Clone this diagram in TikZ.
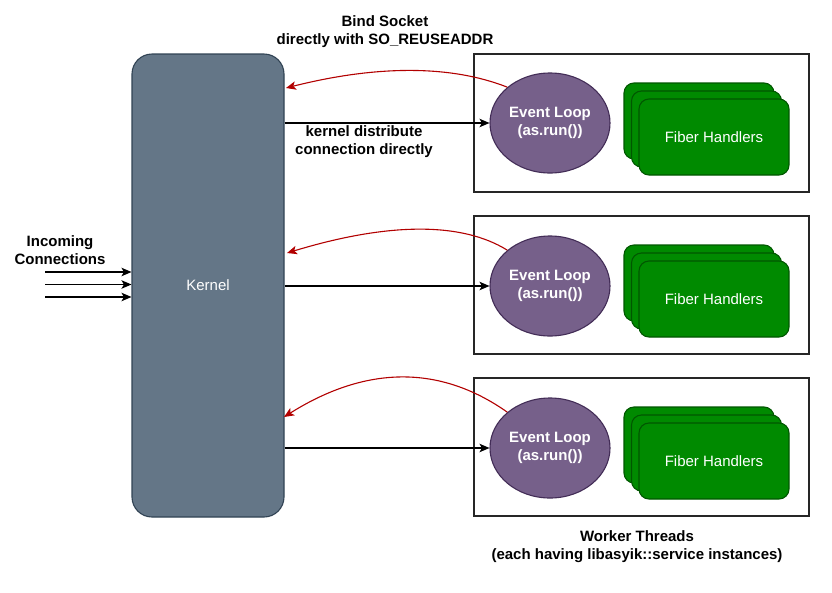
\documentclass[tikz,border=0pt]{standalone}
\usepackage{fontspec}
\setmainfont{Liberation Sans}
\usetikzlibrary{arrows.meta,positioning,shapes.geometric}
\definecolor{kfill}{HTML}{647687}
\definecolor{kdraw}{HTML}{314354}
\definecolor{efill}{HTML}{76608A}
\definecolor{edraw}{HTML}{432D57}
\definecolor{ffill}{HTML}{008A00}
\definecolor{fdraw}{HTML}{005700}
\definecolor{rarrow}{HTML}{B20000}
\begin{document}
\begin{tikzpicture}[x=1pt,y=-1pt,
  font=\fontsize{15}{17.5}\selectfont,
  every path/.style={line width=1.1pt},
  kernelbox/.style={draw=kdraw,fill=kfill,rounded corners=20pt,minimum width=152pt,minimum height=463pt,text=white,inner sep=0pt},
  workerbox/.style={draw=black!85,fill=white,minimum width=335pt,minimum height=138pt,inner sep=0pt},
  loop/.style={ellipse,draw=edraw,fill=efill,minimum width=120pt,minimum height=100pt,text=white,font=\fontsize{15}{17.5}\selectfont\bfseries,align=center,inner sep=0pt},
  fiber/.style={draw=fdraw,fill=ffill,rounded corners=10pt,minimum width=150pt,minimum height=76pt,text=white,inner sep=0pt},
  lbl/.style={align=center,font=\fontsize{15}{17.5}\selectfont\bfseries,inner sep=0pt},
  conn/.style={-{Stealth[length=10pt,width=8.5pt,inset=2.5pt]},black},
  bind/.style={-{Stealth[length=10pt,width=8.5pt,inset=2.5pt]},rarrow}
]
\useasboundingbox (0,0) rectangle (832,592);

\node[kernelbox] (kernel) at (208,285.5) {Kernel};

\foreach \i/\dy in {1/0,2/162,3/324}{
  \node[workerbox] (w\i) at (641.5,123+\dy) {};
  \node[fiber] (fc\i) at (699,121+\dy) {};
  \node[fiber] (fb\i) at (706.5,129+\dy) {};
  \node[fiber] (fa\i) at (714,137+\dy) {Fiber Handlers};
}
\node[loop] (el1) at (550,123) {Event Loop\\(as.run())};
\node[loop] (el2) at (550,286) {Event Loop\\(as.run())};
\node[loop] (el3) at (550,448) {Event Loop\\(as.run())};

% kernel distribute arrows
\draw[conn] (el1.west -| kernel.east) -- (el1.west);
\draw[conn] (el2.west -| kernel.east) -- (el2.west);
\draw[conn] (el3.west -| kernel.east) -- (el3.west);

% bind arrows
\coordinate (k1) at (286,88);
\coordinate (k2) at (287,253);
\coordinate (k3) at (284,417);
\draw[bind] (el1.140) .. controls (451,65) and (377,65) .. (k1);
\draw[bind] (el2.140) .. controls (462,222) and (389,222) .. (k2);
\draw[bind] (el3.140) .. controls (439,364) and (365,366) .. (k3);

% incoming
\coordinate (i1) at (45,272);
\coordinate (i2) at (45,284.5);
\coordinate (i3) at (45,297);
\draw[conn] (i1) -- (i1 -| kernel.west);
\draw[conn] (i2) -- (i2 -| kernel.west);
\draw[conn] (i3) -- (i3 -| kernel.west);

% labels
\node[lbl] (tbind) at (385,31.5) {Bind Socket\\directly with SO\_REUSEADDR};
\node[lbl] (tdist) at (364,141.5) {kernel distribute\\connection directly};
\node[lbl] (tin) at (60,250) {Incoming\\Connections};
\node[lbl] (tworker) at (637,546.5) {Worker Threads\\(each having libasyik::service instances)};
\end{tikzpicture}
\end{document}
